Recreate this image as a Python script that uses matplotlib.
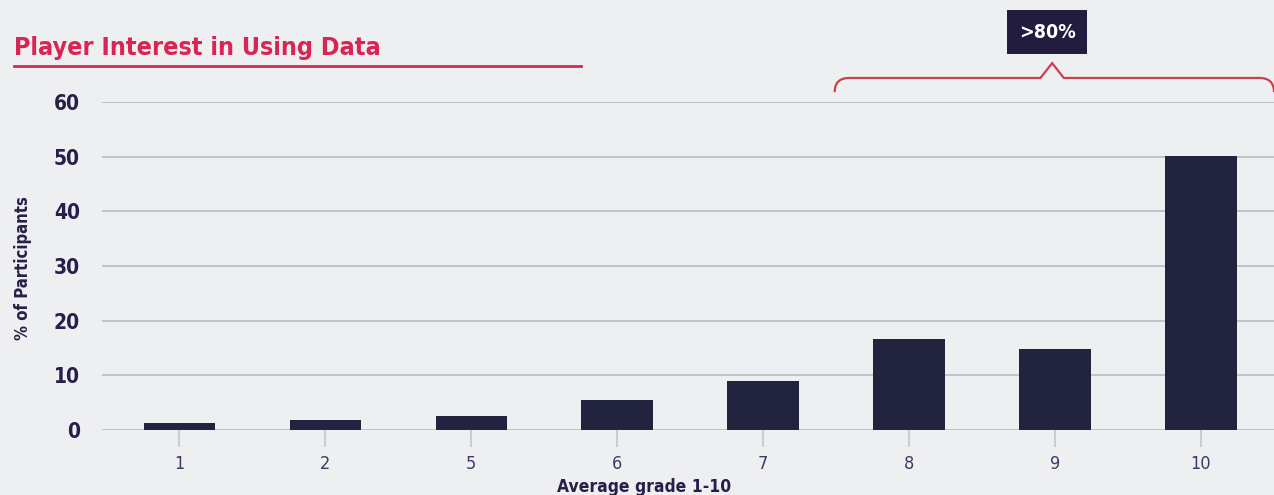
import numpy as np
import matplotlib.pyplot as plt
from matplotlib.path import Path
from matplotlib.patches import PathPatch

# --- data ---
grades = ['1', '2', '5', '6', '7', '8', '9', '10']
pct = [1.3, 1.8, 2.6, 5.5, 9.0, 16.6, 14.8, 50.1]
yticks = [0, 10, 20, 30, 40, 50, 60]

BG = '#eeeff1'
NAVY = '#22233f'
RED = '#d92553'
GRID = '#b9b9c5'
INK = '#261f4a'

plt.rcParams['font.family'] = ['DejaVu Sans']
plt.rcParams['font.stretch'] = 'condensed'

fig = plt.figure(figsize=(12.74, 4.95), dpi=100, facecolor=BG)
ax = fig.add_axes([102 / 1274, 65 / 495, 1 - 102 / 1274, 328 / 495])
ax.set_facecolor(BG)

x = np.arange(len(grades))
ax.bar(x, pct, width=0.49, color=NAVY, zorder=3)

ax.set_xlim(-0.53, 7.5)
ax.set_ylim(0, 60)
ax.set_yticks(yticks)
ax.set_yticklabels([str(v) for v in yticks], fontsize=15, fontweight='bold', color=INK)
ax.set_xticks(x)
ax.set_xticklabels(grades, fontsize=13, color='#3f3a63', fontweight='light')
ax.tick_params(axis='y', length=0, pad=16)
ax.tick_params(axis='x', length=12, width=1.5, color='#cbcbd3', pad=6)
ax.yaxis.grid(True, color=GRID, linewidth=1.2, zorder=0)
for s in ax.spines.values():
    s.set_visible(False)

ax.set_ylabel('% of Participants', fontsize=12, fontweight='bold', color=INK)
ax.yaxis.set_label_coords(-0.0595, 0.495)
ax.set_xlabel('Average grade 1-10', fontsize=12.5, fontweight='bold', color=INK, va='top')
ax.xaxis.set_label_coords(0.4625, -0.146)

# title + underline
fig.text(14 / 1274, 1 - 55 / 495, 'Player Interest in Using Data', fontsize=18,
         fontweight='bold', color=RED, ha='left', va='baseline')
fig.add_artist(plt.Line2D([14 / 1274, 581 / 1274], [1 - 66 / 495, 1 - 66 / 495],
                          color=RED, linewidth=2))

# bracket over the top grades
xl, xr, xc = 4.49, 7.5, 5.98
yb, yh, yp = 61.8, 64.4, 67.1
verts = [(xl, yb), (xl, yh), (xl + 0.1, yh),
         (xc - 0.08, yh), (xc, yp), (xc + 0.08, yh),
         (xr - 0.1, yh), (xr, yh), (xr, yb)]
codes = [Path.MOVETO, Path.CURVE3, Path.CURVE3,
         Path.LINETO, Path.LINETO, Path.LINETO,
         Path.LINETO, Path.CURVE3, Path.CURVE3]
ax.add_patch(PathPatch(Path(verts, codes), facecolor='none', edgecolor='#c9404f',
                       linewidth=1.6, clip_on=False))
ax.text(5.945, 72.8, '>80%', fontsize=14, fontweight='bold', color='white',
        ha='center', va='center', clip_on=False,
        bbox=dict(boxstyle='square,pad=0.62', facecolor='#221c3f', edgecolor='none'))

fig.savefig('out.png', dpi=100, facecolor=BG)
